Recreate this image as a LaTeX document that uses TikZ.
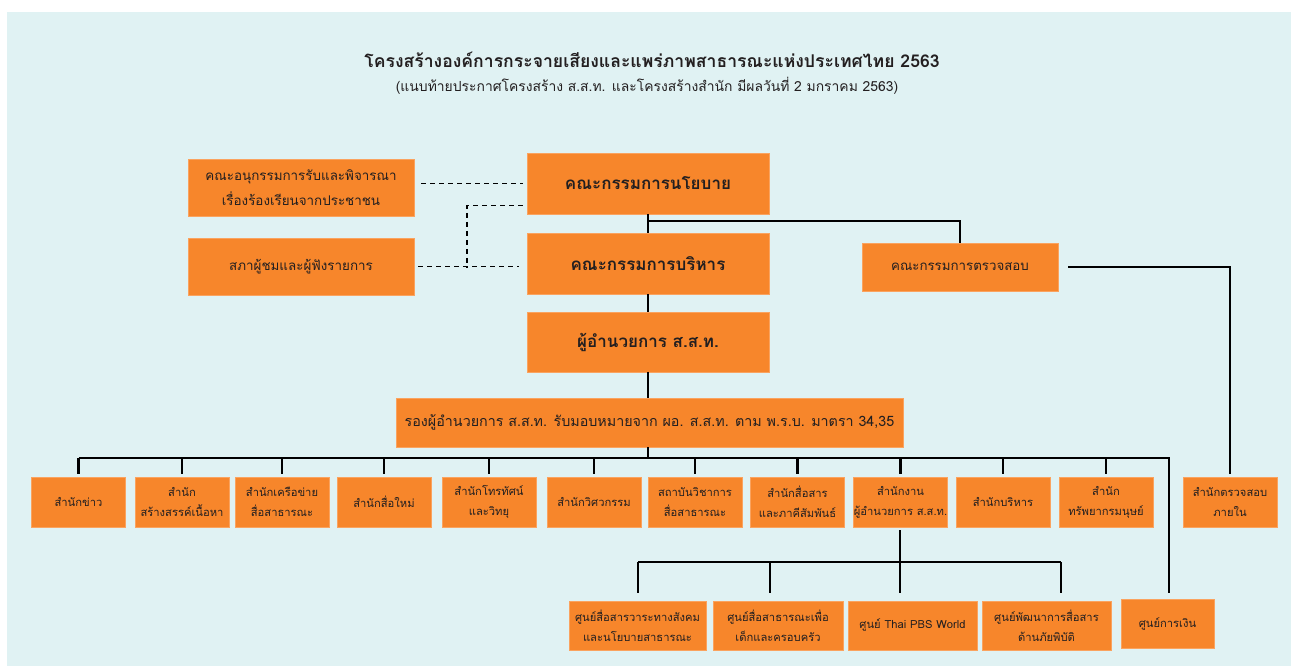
\documentclass[tikz,border=0pt]{standalone}
\usepackage{fontspec}
\setmainfont[Script=Thai]{Loma}
\usetikzlibrary{calc}
\definecolor{bgc}{HTML}{E0F2F3}
\definecolor{orf}{HTML}{F7862B}
\definecolor{ord}{HTML}{FAA35F}
\definecolor{txt}{HTML}{231F20}
\begin{document}
\begin{tikzpicture}[x=1pt,y=-1pt,
 box/.style={fill=orf,draw=ord,line width=0.8pt,text=txt,align=center,inner sep=0pt},
 bigbox/.style={box,minimum width=242pt,minimum height=61pt,font=\fontsize{17}{20}\selectfont\bfseries},
 sidebox/.style={box,minimum width=226pt,minimum height=57pt,font=\fontsize{13.4}{25}\selectfont},
 smallbox/.style={box,minimum width=94pt,minimum height=50pt,font=\fontsize{11.2}{20}\selectfont},
 centrebox/.style={box,minimum width=129pt,minimum height=49pt,font=\fontsize{11.2}{20}\selectfont},
 conn/.style={line width=2.8pt,black},
 dashconn/.style={line width=1.4pt,dash pattern=on 5pt off 4pt,black}]
\useasboundingbox (0,0) rectangle (1291,666);
\fill[white] (0,0) rectangle (1291,666);
\fill[bgc] (7,12) rectangle (1291,666);

\node[text=txt,font=\fontsize{17.6}{20}\selectfont\bfseries] (title) at (652,60) {โครงสร้างองค์การกระจายเสียงและแพร่ภาพสาธารณะแห่งประเทศไทย 2563};
\node[text=txt,font=\fontsize{13.9}{16}\selectfont] (subtitle) at (647,86) {(แนบท้ายประกาศโครงสร้าง ส.ส.ท. และโครงสร้างสำนัก มีผลวันที่ 2 มกราคม 2563)};

% top level
\node[bigbox] (policy) at (648,183.5) {คณะกรรมการนโยบาย};
\node[bigbox] (exec) at (648,263.5) {คณะกรรมการบริหาร};
\node[bigbox,minimum height=60pt] (dir) at (648,342) {ผู้อำนวยการ ส.ส.ท.};
\node[box,minimum width=507pt,minimum height=49pt,font=\fontsize{14.3}{16}\selectfont] (deputy) at (649.5,422.5) {รองผู้อำนวยการ ส.ส.ท. รับมอบหมายจาก ผอ. ส.ส.ท. ตาม พ.ร.บ. มาตรา 34,35};
\node[sidebox] (sub) at (301,187.5) {คณะอนุกรรมการรับและพิจารณา\\เรื่องร้องเรียนจากประชาชน};
\node[sidebox] (council) at (301,266.5) {สภาผู้ชมและผู้ฟังรายการ};
\node[box,minimum width=196pt,minimum height=48pt,font=\fontsize{13.3}{15}\selectfont] (audit) at (960,267) {คณะกรรมการตรวจสอบ};

% row of offices
\node[smallbox] (r1) at (78.5,502) {สำนักข่าว};
\node[smallbox] (r2) at (182,502) {สำนัก\\สร้างสรรค์เนื้อหา};
\node[smallbox] (r3) at (282,502) {สำนักเครือข่าย\\สื่อสาธารณะ};
\node[smallbox] (r4) at (384,502) {สำนักสื่อใหม่};
\node[smallbox] (r5) at (489,502) {สำนักโทรทัศน์\\และวิทยุ};
\node[smallbox] (r6) at (594,502) {สำนักวิศวกรรม};
\node[smallbox] (r7) at (695,502) {สถาบันวิชาการ\\สื่อสาธารณะ};
\node[smallbox] (r8) at (797.5,502) {สำนักสื่อสาร\\และภาคีสัมพันธ์};
\node[smallbox] (r9) at (900.5,502) {สำนักงาน\\ผู้อำนวยการ ส.ส.ท.};
\node[smallbox] (r10) at (1003,502) {สำนักบริหาร};
\node[smallbox] (r11) at (1106,502) {สำนัก\\ทรัพยากรมนุษย์};
\node[smallbox] (r12) at (1230,502) {สำนักตรวจสอบ\\ภายใน};

% centres
\node[centrebox,minimum width=137pt] (c1) at (637.5,625.5) {ศูนย์สื่อสารวาระทางสังคม\\และนโยบายสาธารณะ};
\node[centrebox,minimum width=130pt] (c2) at (778,625.5) {ศูนย์สื่อสาธารณะเพื่อ\\เด็กและครอบครัว};
\node[centrebox] (c3) at (912.5,625.5) {ศูนย์ Thai PBS World};
\node[centrebox] (c4) at (1046.5,625.5) {ศูนย์พัฒนาการสื่อสาร\\ด้านภัยพิบัติ};
\node[smallbox,minimum width=93pt,minimum height=49pt] (c5) at (1167.5,624) {ศูนย์การเงิน};

% coordinates
\coordinate (busA) at (648,458);
\coordinate (busAend) at (1169,458);
\coordinate (auditJ) at (648,221);
\coordinate (b1) at (638,562);
\coordinate (b2) at (770,562);
\coordinate (b4) at (1061,562);

% solid connectors
\draw[conn] (policy.south) -- (exec.north);
\draw[conn] (exec.south) -- (dir.north);
\draw[conn] (dir.south) -- (dir.south |- deputy.north);
\draw[conn] (dir.south |- deputy.south) -- (busA);
\draw[conn] (auditJ) -| (audit.north);
\draw[conn] ($(audit.east)+(10,0)$) -| ($(r12.north)+(0,-3)$);
\draw[conn] (r1.north |- busA) -- (busAend) -- ($(c5.north)+(1.5,-6)$);
\foreach \n in {r1,r2,r3,r4,r5,r6,r7,r8,r9,r10,r11}{
  \draw[conn] (\n.north |- busA) -- ($(\n.north)+(0,-3)$);
}
\draw[conn] ($(r9.south)+(-0.5,3)$) -- ($(r9.south |- c3.north)+(-0.5,-8)$);
\draw[conn] (b1) -- (b4);
\draw[conn] (b1) -- ($(b1 |- c1.north)+(0,-8)$);
\draw[conn] (b2) -- ($(b2 |- c2.north)+(0,-8)$);
\draw[conn] (b4) -- ($(b4 |- c4.north)+(0,-8)$);

% dashed connectors
\draw[dashconn] ($(sub.east |- policy.west)+(7,0)$) -- ($(policy.west)+(-4,0)$);
\draw[dashconn] ($(policy.west)+(-4,22)$) -- (467,205.5) -- (467,267);
\draw[dashconn] ($(council.east)+(4,0)$) -- ($(exec.west)+(-8,3)$);
\end{tikzpicture}
\end{document}
